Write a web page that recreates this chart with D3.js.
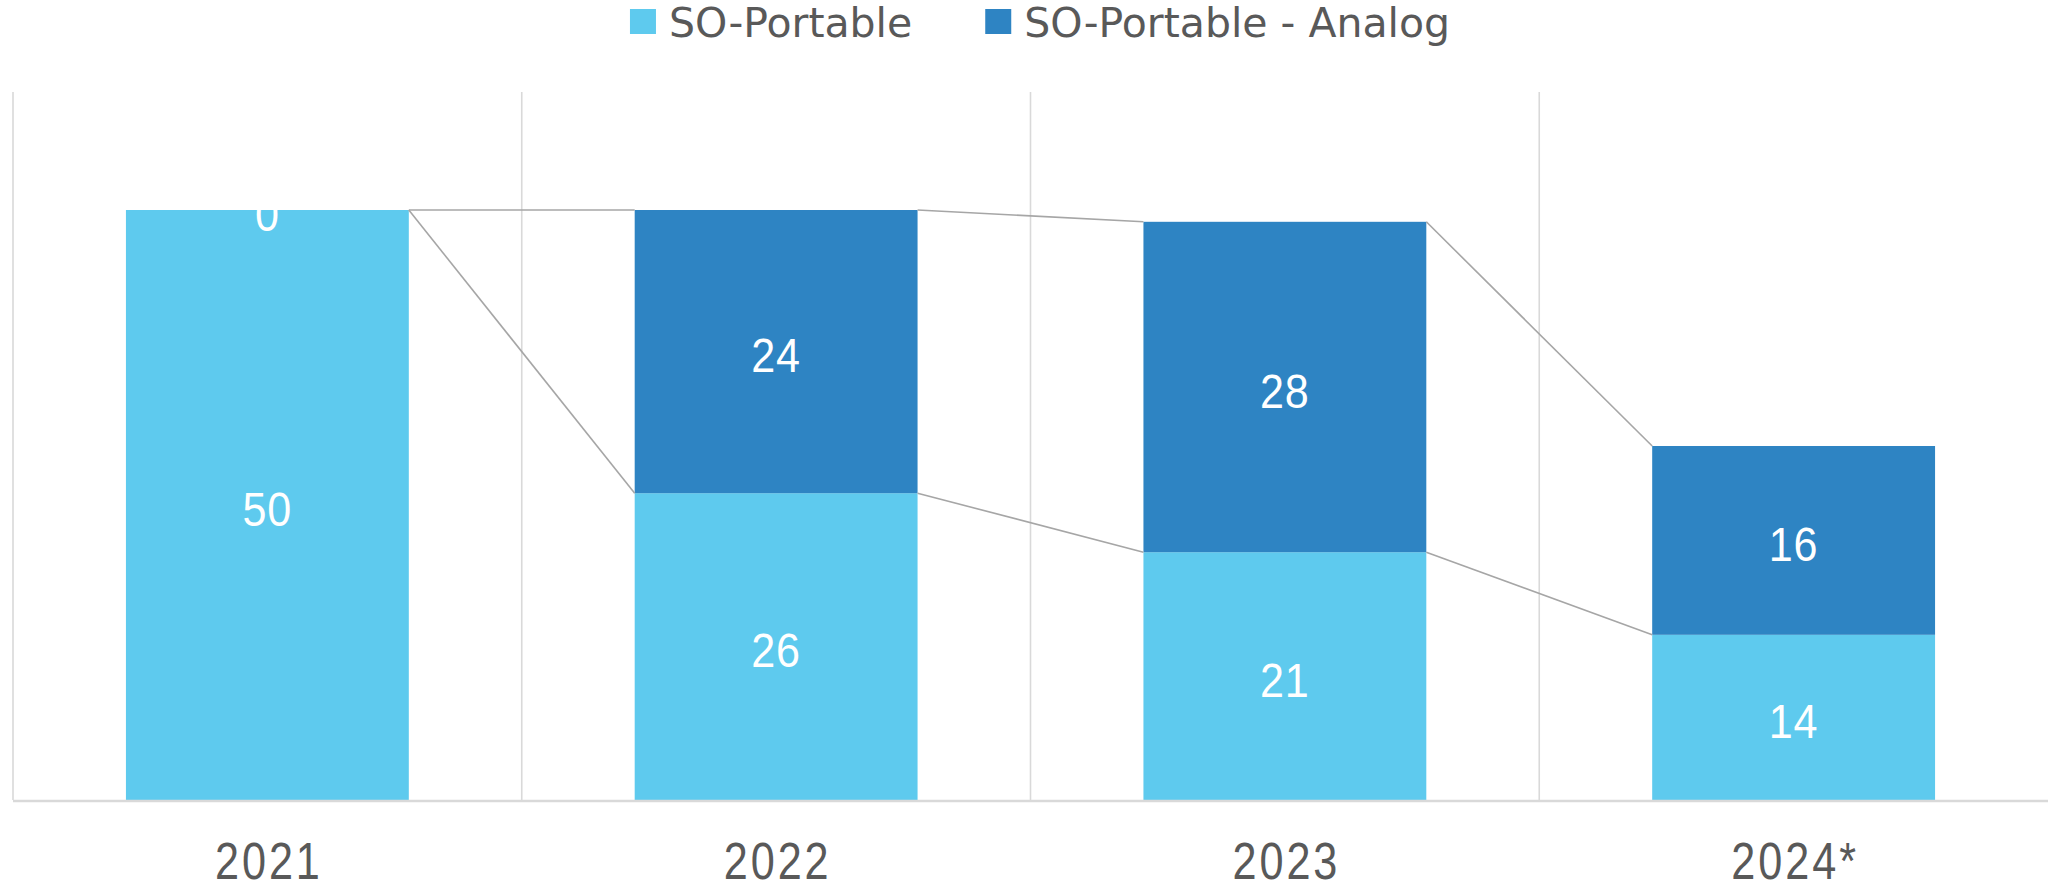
<!DOCTYPE html>
<html>
<head>
<meta charset="utf-8">
<script src="https://cdn.jsdelivr.net/npm/d3@7"></script>
<style>
  html, body { margin: 0; padding: 0; background: #ffffff; }
  svg { display: block; }
</style>
</head>
<body>
<svg id="chart" width="2048" height="886"></svg>
<script>
const categories = ["2021", "2022", "2023", "2024*"];
const seriesNames = ["SO-Portable", "SO-Portable - Analog"];
const portable = [50, 26, 21, 14];
const analog = [0, 24, 28, 16];
const seriesColors = ["#5ECAEE", "#2E84C3"];
const yDomain = [0, 60];

const W = 2048, H = 886;
const plot = { left: 13, right: 2048, top: 92, bottom: 800 };
const svg = d3.select("#chart");

const x = d3.scaleBand().domain(categories).range([plot.left, plot.right]).padding(0);
const y = d3.scaleLinear().domain(yDomain).range([plot.bottom, plot.top]);
const barW = x.bandwidth() * 0.556;
const barX = c => x(c) + (x.bandwidth() - barW) / 2;
const midX = c => x(c) + x.bandwidth() / 2;

const table = categories.map((c, i) => ({ cat: c, portable: portable[i], analog: analog[i] }));
const stacked = d3.stack().keys(["portable", "analog"])(table);

// vertical gridlines at category boundaries
svg.append("g").selectAll("line").data(categories).join("line")
  .attr("x1", c => x(c)).attr("x2", c => x(c))
  .attr("y1", y(yDomain[1])).attr("y2", plot.bottom)
  .attr("stroke", "#D9D9D9").attr("stroke-width", 1.6);

// bars
const gBars = svg.append("g");
stacked.forEach((s, si) => {
  gBars.append("g").attr("fill", seriesColors[si]).selectAll("rect").data(s).join("rect")
    .attr("x", d => barX(d.data.cat))
    .attr("width", barW)
    .attr("y", d => y(d[1]))
    .attr("height", d => y(d[0]) - y(d[1]));
});

// series connector lines
const gLines = svg.append("g");
stacked.forEach(s => {
  for (let i = 0; i < s.length - 1; i++) {
    gLines.append("line")
      .attr("x1", barX(s[i].data.cat) + barW)
      .attr("y1", y(s[i][1]))
      .attr("x2", barX(s[i + 1].data.cat))
      .attr("y2", y(s[i + 1][1]))
      .attr("stroke", "#A6A6A6").attr("stroke-width", 1.6);
  }
});

// category axis line
svg.append("line")
  .attr("x1", plot.left).attr("x2", plot.right)
  .attr("y1", plot.bottom + 1).attr("y2", plot.bottom + 1)
  .attr("stroke", "#D9D9D9").attr("stroke-width", 2.5);

const numFont = "'Liberation Sans', Arial, sans-serif";

// value labels
const gVals = svg.append("g")
  .attr("font-family", numFont)
  .attr("font-size", 49).attr("fill", "#FFFFFF").attr("text-anchor", "middle");
stacked.forEach(s => {
  gVals.append("g").selectAll("text").data(s).join("text")
    .attr("transform", d => `translate(${midX(d.data.cat)},${(y(d[0]) + y(d[1])) / 2}) scale(0.88,1)`)
    .attr("dy", "0.42em")
    .attr("letter-spacing", 1)
    .text(d => d[1] - d[0]);
});

// category labels
svg.append("g")
  .attr("font-family", numFont)
  .attr("font-size", 51.5).attr("fill", "#595959").attr("text-anchor", "middle")
  .selectAll("text").data(categories).join("text")
  .attr("transform", c => `translate(${midX(c) + 1.5},879) scale(0.84,1)`)
  .attr("letter-spacing", 3.5)
  .text(c => c);

// legend
const legend = svg.append("g").attr("font-family", "'DejaVu Sans', sans-serif")
  .attr("font-size", 41).attr("fill", "#595959");
const items = legend.selectAll("g").data(seriesNames).join("g");
items.append("rect").attr("width", 26).attr("height", 25).attr("y", 9)
  .attr("fill", (d, i) => seriesColors[i]);
items.append("text").attr("x", 39).attr("y", 37).text(d => d);
const widths = [];
items.each(function () {
  widths.push(this.querySelector("text").getComputedTextLength() + 39);
});
const gap = 73;
const total = d3.sum(widths) + gap * (widths.length - 1);
const startX = 1040 - total / 2;
items.attr("transform", (d, i) => `translate(${startX + d3.sum(widths.slice(0, i)) + gap * i},0)`);
</script>
</body>
</html>
